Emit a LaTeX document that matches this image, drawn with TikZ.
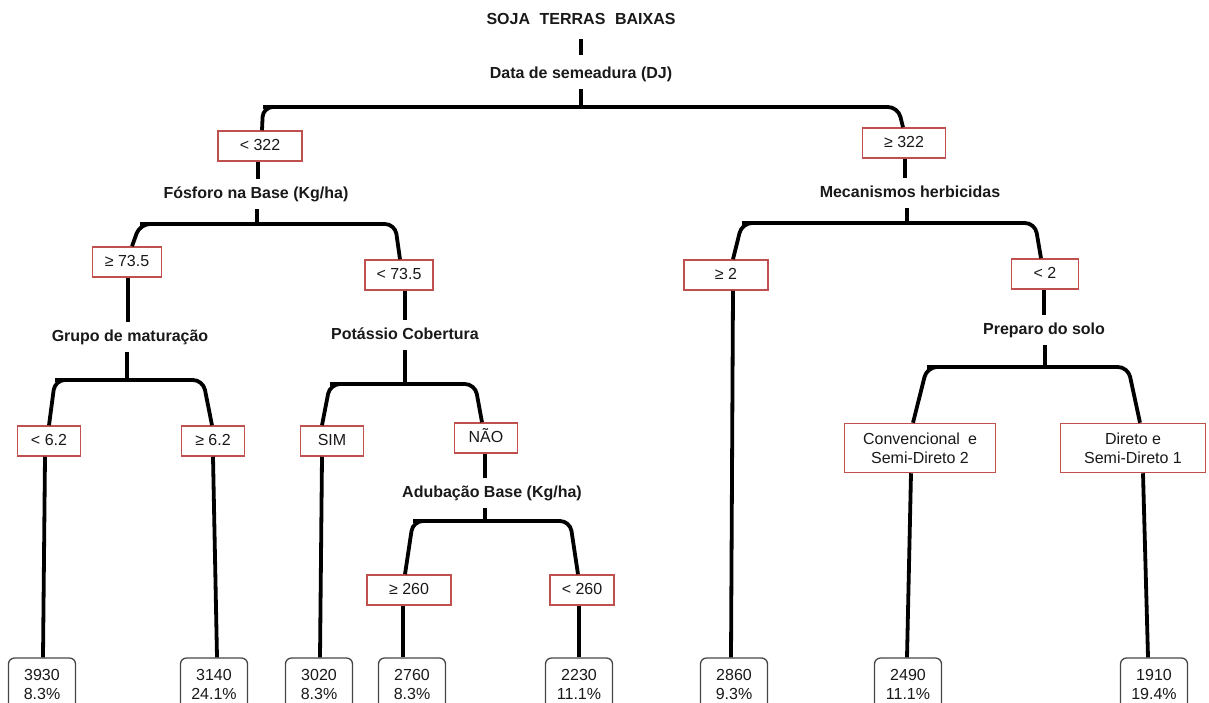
\documentclass[tikz,border=0pt]{standalone}
\usepackage{fontspec}
\setmainfont{Liberation Sans}
\definecolor{boxred}{RGB}{192,80,77}
\definecolor{leafgray}{RGB}{70,70,70}
\definecolor{txt}{RGB}{25,25,25}
\begin{document}
\begin{tikzpicture}[x=1pt,y=-1pt,
  every node/.style={font=\fontsize{16}{19}\selectfont, text=txt},
  lbl/.style={font=\fontsize{16}{19}\selectfont\bfseries, inner xsep=2pt, inner ysep=0pt, text height=11.5pt, text depth=3.5pt, minimum height=30pt},
  cond/.style={draw=boxred, line width=1.5pt, fill=white, minimum height=30pt, text height=11.5pt, text depth=3.5pt, inner sep=0pt},
  condtwo/.style={draw=boxred, line width=1.5pt, fill=white, minimum height=49pt, align=center, inner sep=0pt},
  leaf/.style={draw=leafgray, line width=1.3pt, fill=white, rounded corners=6pt, minimum width=67pt, minimum height=52pt, align=center, inner sep=0pt},
  branch/.style={line width=3.8pt, rounded corners=10pt},
  stem/.style={line width=3.8pt},
]
\useasboundingbox (0,0) rectangle (1209,702);

% labels and condition boxes
\node[lbl] (root) at (581,20) {SOJA\hspace{0.6em}TERRAS\hspace{0.6em}BAIXAS};
\node[lbl] (dj) at (581,74) {Data de semeadura (DJ)};
\node[cond, minimum width=84pt] (c1) at (260,146) {< 322};
\node[cond, minimum width=83pt] (c2) at (904,143) {≥ 322};
\node[lbl] (fos) at (256,194) {Fósforo na Base (Kg/ha)};
\node[lbl] (mec) at (910,193) {Mecanismos herbicidas};
\node[cond, minimum width=69pt] (c3) at (127,262) {≥ 73.5};
\node[cond, minimum width=68pt] (c4) at (399,275) {< 73.5};
\node[cond, minimum width=84pt] (c11) at (726,275) {≥ 2};
\node[cond, minimum width=67pt] (c12) at (1045,274) {< 2};
\node[lbl] (grupo) at (130,337) {Grupo de maturação};
\node[lbl] (pot) at (405,335) {Potássio Cobertura};
\node[lbl] (prep) at (1044,330) {Preparo do solo};
\node[cond, minimum width=63pt] (c5) at (49,441) {< 6.2};
\node[cond, minimum width=63pt] (c6) at (213,441) {≥ 6.2};
\node[cond, minimum width=63pt] (c7) at (332,441) {SIM};
\node[cond, minimum width=63pt] (c8) at (486,438) {NÃO};
\node[condtwo, minimum width=151pt] (c13) at (920,448) {Convencional\hspace{0.5em}e\\Semi-Direto 2};
\node[condtwo, minimum width=145pt] (c14) at (1133,448) {Direto e\\Semi-Direto 1};
\node[lbl] (adub) at (492,493) {Adubação Base (Kg/ha)};
\node[cond, minimum width=84pt] (c9) at (409,590) {≥ 260};
\node[cond, minimum width=64pt] (c10) at (582,590) {< 260};

% leaves
\node[leaf] (l1) at (42,684) {3930\\8.3\%};
\node[leaf] (l2) at (214,684) {3140\\24.1\%};
\node[leaf] (l3) at (319,684) {3020\\8.3\%};
\node[leaf] (l4) at (412,684) {2760\\8.3\%};
\node[leaf] (l5) at (579,684) {2230\\11.1\%};
\node[leaf] (l6) at (734,684) {2860\\9.3\%};
\node[leaf] (l7) at (908,684) {2490\\11.1\%};
\node[leaf] (l8) at (1154,684) {1910\\19.4\%};

% bar end points
\coordinate (b1L) at (263,107);  \coordinate (b1R) at (898,107);
\coordinate (b2L) at (140,224);  \coordinate (b2R) at (395,224);
\coordinate (b3L) at (742,223);  \coordinate (b3R) at (1035,223);
\coordinate (b4L) at (55,380);   \coordinate (b4R) at (203,380);
\coordinate (b5L) at (330,384);  \coordinate (b5R) at (475,384);
\coordinate (b6L) at (927,367);  \coordinate (b6R) at (1128,367);
\coordinate (b7L) at (413,521);  \coordinate (b7R) at (570,521);

% root
\draw[stem, shorten <=4pt, shorten >=4pt] (root.south) -- (dj.north);
\draw[stem] (dj.south) |- (b1L);
\draw[branch] ([xshift=2pt]c1.north) -- (b1L) -- (b1R) -- ([xshift=-1pt]c2.north);

% left: fosforo
\draw[stem] ([xshift=-2pt]c1.south) -- ([xshift=2pt]fos.north);
\draw[stem] ([xshift=1pt]fos.south) |- (b2L);
\draw[branch] ([xshift=5pt]c3.north) -- (b2L) -- (b2R) -- ([xshift=1pt]c4.north);

% grupo de maturacao
\draw[stem] ([xshift=1pt]c3.south) -- ([xshift=-2pt]grupo.north);
\draw[stem] ([xshift=-3pt]grupo.south) |- (b4L);
\draw[branch] (c5.north) -- (b4L) -- (b4R) -- ([xshift=-1pt]c6.north);

% potassio
\draw[stem] ([xshift=6pt]c4.south) -- (pot.north);
\draw[stem] (pot.south) |- (b5L);
\draw[branch] ([xshift=-10pt]c7.north) -- (b5L) -- (b5R) -- ([xshift=-4pt]c8.north);

% adubacao
\draw[stem] ([xshift=-1pt]c8.south) -- ([xshift=-7pt]adub.north);
\draw[stem] ([xshift=-7pt]adub.south) |- (b7L);
\draw[branch] ([xshift=-4pt]c9.north) -- (b7L) -- (b7R) -- ([xshift=-4pt]c10.north);

% right: mecanismos
\draw[stem] ([xshift=1pt]c2.south) -- ([xshift=-5pt]mec.north);
\draw[stem] ([xshift=-3pt]mec.south) |- (b3L);
\draw[branch] ([xshift=7pt]c11.north) -- (b3L) -- (b3R) -- ([xshift=-4pt]c12.north);

% preparo
\draw[stem] ([xshift=-1pt]c12.south) -- (prep.north);
\draw[stem] ([xshift=1pt]prep.south) |- (b6L);
\draw[branch] ([xshift=-7pt]c13.north) -- (b6L) -- (b6R) -- ([xshift=7pt]c14.north);

% to leaves
\draw[stem] ([xshift=-4pt]c5.south) -- ([xshift=1pt]l1.north);
\draw[stem] (c6.south) -- ([xshift=3pt]l2.north);
\draw[stem] ([xshift=-10pt]c7.south) -- ([xshift=1pt]l3.north);
\draw[stem] ([xshift=-6pt]c9.south) -- ([xshift=-9pt]l4.north);
\draw[stem] ([xshift=-3pt]c10.south) -- (l5.north);
\draw[stem] ([xshift=7pt]c11.south) -- ([xshift=-3pt]l6.north);
\draw[stem] ([xshift=-9pt]c13.south) -- ([xshift=-1pt]l7.north);
\draw[stem] ([xshift=10pt]c14.south) -- ([xshift=-6pt]l8.north);
\end{tikzpicture}
\end{document}
